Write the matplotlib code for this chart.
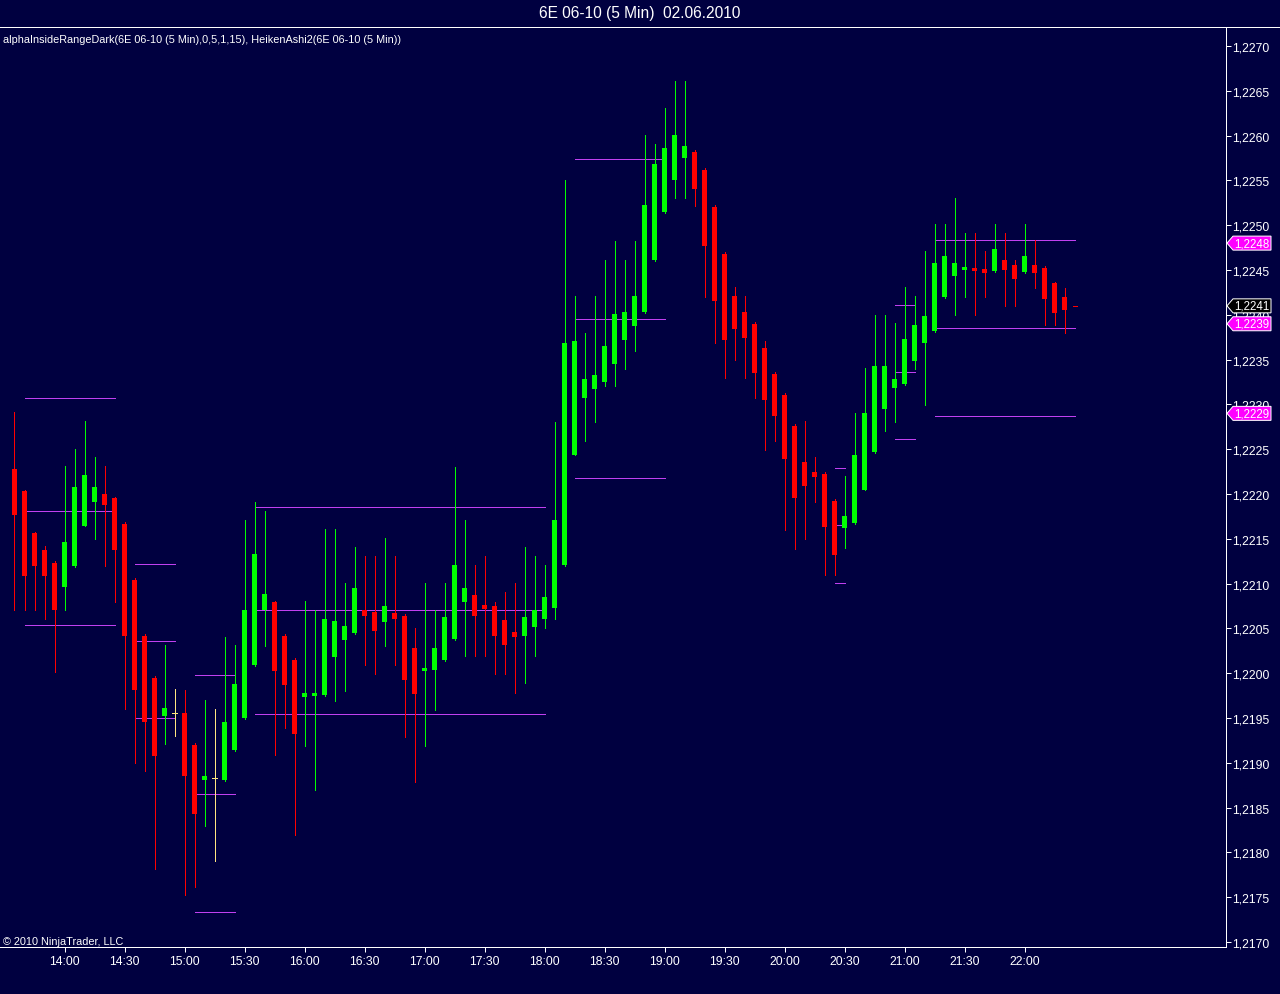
import matplotlib
matplotlib.use("Agg")
import matplotlib.pyplot as plt
from matplotlib.patches import Polygon
from matplotlib.lines import Line2D
from matplotlib.ticker import FuncFormatter, FixedLocator

plt.rcParams['font.family'] = ['Liberation Sans', 'DejaVu Sans']

# ---------------- data ----------------
title = "6E 06-10 (5 Min)  02.06.2010"
indicator_text = "alphaInsideRangeDark(6E 06-10 (5 Min),0,5,1,15), HeikenAshi2(6E 06-10 (5 Min))"
copyright_text = "\u00a9 2010 NinjaTrader, LLC"

start_time = "13:35"
bar_minutes = 5

opens = [1.22228, 1.22203, 1.22156, 1.22138, 1.22123, 1.22096, 1.22120, 1.22164, 1.22191, 1.22200,
         1.22195, 1.22167, 1.22104, 1.22042, 1.21995, 1.21952, 1.21956, 1.21956, 1.21920, 1.21881,
         1.21883, 1.21881, 1.21914, 1.21950, 1.22009, 1.22071, 1.22079, 1.22042, 1.22015, 1.21973,
         1.21975, 1.21976, 1.22018, 1.22037, 1.22045, 1.22070, 1.22068, 1.22057, 1.22067, 1.22064,
         1.22028, 1.22003, 1.22004, 1.22015, 1.22038, 1.22079, 1.22087, 1.22076, 1.22075, 1.22059,
         1.22046, 1.22042, 1.22052, 1.22061, 1.22073, 1.22121, 1.22244, 1.22307, 1.22317, 1.22325,
         1.22345, 1.22372, 1.22388, 1.22403, 1.22461, 1.22515, 1.22550, 1.22575, 1.22582, 1.22562,
         1.22520, 1.22468, 1.22421, 1.22403, 1.22390, 1.22363, 1.22334, 1.22311, 1.22276, 1.22236,
         1.22224, 1.22222, 1.22192, 1.22162, 1.22168, 1.22205, 1.22247, 1.22295, 1.22318, 1.22323,
         1.22348, 1.22368, 1.22382, 1.22420, 1.22443, 1.22450, 1.22452, 1.22451, 1.22449, 1.22461,
         1.22456, 1.22448, 1.22456, 1.22452, 1.22435, 1.22420]

highs = [1.22291, 1.22205, 1.22158, 1.22142, 1.22125, 1.22231, 1.22250, 1.22281, 1.22241, 1.22231,
         1.22197, 1.22169, 1.22106, 1.22044, 1.21997, 1.22031, 1.21982, 1.21981, 1.21922, 1.21970,
         1.21960, 1.22040, 1.22031, 1.22171, 1.22191, 1.22181, 1.22081, 1.22044, 1.22017, 1.22081,
         1.22070, 1.22161, 1.22161, 1.22101, 1.22141, 1.22131, 1.22131, 1.22151, 1.22131, 1.22066,
         1.22050, 1.22101, 1.22070, 1.22101, 1.22230, 1.22171, 1.22121, 1.22131, 1.22080, 1.22091,
         1.22101, 1.22141, 1.22131, 1.22121, 1.22280, 1.22551, 1.22421, 1.22380, 1.22421, 1.22461,
         1.22482, 1.22461, 1.22482, 1.22601, 1.22591, 1.22631, 1.22661, 1.22661, 1.22584, 1.22564,
         1.22522, 1.22470, 1.22431, 1.22421, 1.22392, 1.22371, 1.22336, 1.22313, 1.22278, 1.22281,
         1.22241, 1.22224, 1.22194, 1.22220, 1.22290, 1.22341, 1.22400, 1.22400, 1.22391, 1.22431,
         1.22421, 1.22471, 1.22501, 1.22501, 1.22530, 1.22491, 1.22491, 1.22471, 1.22501, 1.22491,
         1.22461, 1.22501, 1.22484, 1.22454, 1.22437, 1.22430]

lows = [1.22070, 1.22070, 1.22070, 1.22060, 1.22001, 1.22070, 1.22118, 1.22164, 1.22150, 1.22120,
        1.22080, 1.21960, 1.21900, 1.21891, 1.21781, 1.21921, 1.21930, 1.21752, 1.21761, 1.21830,
        1.21790, 1.21880, 1.21913, 1.21949, 1.22008, 1.22030, 1.21909, 1.21939, 1.21819, 1.21919,
        1.21870, 1.21975, 1.21969, 1.21980, 1.22044, 1.22009, 1.21999, 1.22030, 1.22009, 1.21929,
        1.21879, 1.21919, 1.21959, 1.22014, 1.22037, 1.22019, 1.22019, 1.22019, 1.21999, 1.21999,
        1.21978, 1.21989, 1.22019, 1.22050, 1.22060, 1.22120, 1.22243, 1.22259, 1.22280, 1.22320,
        1.22320, 1.22340, 1.22360, 1.22402, 1.22460, 1.22514, 1.22530, 1.22530, 1.22521, 1.22420,
        1.22369, 1.22329, 1.22349, 1.22329, 1.22307, 1.22249, 1.22259, 1.22160, 1.22139, 1.22150,
        1.22191, 1.22110, 1.22110, 1.22140, 1.22167, 1.22204, 1.22246, 1.22270, 1.22280, 1.22322,
        1.22340, 1.22299, 1.22381, 1.22419, 1.22400, 1.22420, 1.22400, 1.22420, 1.22448, 1.22410,
        1.22410, 1.22447, 1.22430, 1.22389, 1.22389, 1.22380]

closes = [1.22177, 1.22108, 1.22120, 1.22108, 1.22071, 1.22146, 1.22208, 1.22221, 1.22208, 1.22188,
          1.22137, 1.22041, 1.21981, 1.21946, 1.21908, 1.21961, 1.21956, 1.21885, 1.21843, 1.21885,
          1.21883, 1.21946, 1.21988, 1.22071, 1.22133, 1.22088, 1.22002, 1.21987, 1.21932, 1.21978,
          1.21978, 1.22060, 1.22058, 1.22053, 1.22095, 1.22064, 1.22047, 1.22075, 1.22060, 1.21992,
          1.21977, 1.22006, 1.22028, 1.22063, 1.22121, 1.22095, 1.22064, 1.22072, 1.22042, 1.22032,
          1.22040, 1.22063, 1.22070, 1.22085, 1.22171, 1.22369, 1.22371, 1.22328, 1.22333, 1.22365,
          1.22401, 1.22403, 1.22421, 1.22522, 1.22568, 1.22586, 1.22601, 1.22588, 1.22540, 1.22477,
          1.22415, 1.22372, 1.22384, 1.22374, 1.22335, 1.22305, 1.22287, 1.22239, 1.22195, 1.22209,
          1.22219, 1.22163, 1.22132, 1.22175, 1.22244, 1.22290, 1.22343, 1.22343, 1.22328, 1.22373,
          1.22389, 1.22399, 1.22458, 1.22466, 1.22458, 1.22453, 1.22449, 1.22447, 1.22473, 1.22450,
          1.22440, 1.22466, 1.22447, 1.22418, 1.22402, 1.22405]

last_price = 1.22410
last_time = "22:25"

# inside-range levels (start time, end time, high, mid, low)
range_start = ["13:40", "14:35", "15:05", "15:35", "18:15", "20:25", "20:55", "21:15"]
range_end = ["14:25", "14:55", "15:25", "18:00", "19:00", "20:30", "21:05", "22:25"]
range_high = [1.22307, 1.22122, 1.21998, 1.22185, 1.22574, 1.22229, 1.22411, 1.22483]
range_mid = [1.22181, 1.22036, 1.21865, 1.22070, 1.22395, 1.22165, 1.22336, 1.22385]
range_low = [1.22054, 1.21950, 1.21733, 1.21955, 1.22218, 1.22101, 1.22261, 1.22287]

x_tick_labels = ["14:00", "14:30", "15:00", "15:30", "16:00", "16:30", "17:00", "17:30", "18:00",
                 "18:30", "19:00", "19:30", "20:00", "20:30", "21:00", "21:30", "22:00"]
y_ticks = [1.2170, 1.2175, 1.2180, 1.2185, 1.2190, 1.2195, 1.2200, 1.2205, 1.2210, 1.2215,
           1.2220, 1.2225, 1.2230, 1.2235, 1.2240, 1.2245, 1.2250, 1.2255, 1.2260, 1.2265, 1.2270]

marker_prices = [1.2248, 1.2239, 1.2229]

# ---------------- style ----------------
BG = '#000040'
UP = '#00FF00'
DOWN = '#FF0000'
DOJI = '#FFE680'
RANGE_COLOR = '#C040F0'
MARKER = '#FF00FF'
PX = 0.72  # one pixel in points at dpi 100

W, H = 1280, 995


def tmin(s):
    h, m = s.split(":")
    return int(h) * 60 + int(m)


def bar_x(s):
    return (tmin(s) - tmin(start_time)) / bar_minutes


fig = plt.figure(figsize=(W / 100, H / 100), dpi=100, facecolor=BG)
ax_left, ax_right, ax_top, ax_bottom = 0, 1226, 28, 948
ax = fig.add_axes([ax_left / W, 1 - ax_bottom / H, (ax_right - ax_left) / W, (ax_bottom - ax_top) / H])
ax.set_facecolor(BG)

n = len(opens)
xs = list(range(n))

# range lines
for s, e, hi, mi, lo in zip(range_start, range_end, range_high, range_mid, range_low):
    x0, x1 = bar_x(s), bar_x(e)
    ax.hlines([hi, mi, lo], x0, x1, colors=RANGE_COLOR, linewidth=1.0 * PX, zorder=1,
              antialiased=False)

# candles
colors = []
for o, c in zip(opens, closes):
    if c > o:
        colors.append(UP)
    elif c < o:
        colors.append(DOWN)
    else:
        colors.append(DOJI)

ax.vlines(xs, lows, highs, colors=colors, linewidth=1.0 * PX, zorder=2, antialiased=False)
body_bottom = [min(o, c) for o, c in zip(opens, closes)]
body_height = [abs(c - o) for o, c in zip(opens, closes)]
for x, b, h, col in zip(xs, body_bottom, body_height, colors):
    if h == 0:
        ax.hlines(b, x - 0.25, x + 0.25, colors=col, linewidth=1.0 * PX, zorder=3,
                  antialiased=False)
    else:
        ax.bar(x, h, bottom=b, width=0.5, color=col, linewidth=0, zorder=3, antialiased=False)

# current price dash
lx = bar_x(last_time)
ax.hlines(last_price, lx - 0.2, lx + 0.2, colors=DOWN, linewidth=1.0 * PX, zorder=3,
          antialiased=False)

# axes limits
ax.set_xlim((0 - 14.5) / 10, (ax_right - 14.5) / 10)
ax.set_ylim(1.2270 - (ax_bottom - 47) / 89600, 1.2270 + (47 - ax_top) / 89600)

for side in ['left', 'top']:
    ax.spines[side].set_visible(False)
for side in ['right', 'bottom']:
    ax.spines[side].set_color('white')
    ax.spines[side].set_linewidth(1.0 * PX)

ax.yaxis.tick_right()
ax.yaxis.set_major_locator(FixedLocator(y_ticks))
ax.yaxis.set_major_formatter(FuncFormatter(lambda v, p: f"{v:.4f}".replace('.', ',')))
ax.tick_params(axis='y', direction='out', length=5 * PX, width=PX, colors='white',
               labelsize=8.8, pad=0.5)
ax.set_xticks([bar_x(t) for t in x_tick_labels])
ax.set_xticklabels(x_tick_labels)
ax.tick_params(axis='x', direction='out', length=5 * PX, width=PX, colors='white',
               labelsize=8.8, pad=2.5)

# separator line under title
fig.add_artist(Line2D([0, 1], [1 - 27.5 / H] * 2, transform=fig.transFigure, color='white',
                      linewidth=PX))

fig.text(0.5, 1 - 13.5 / H, title, color='white', fontsize=11.2, ha='center', va='center')
fig.text(3 / W, 1 - 40 / H, indicator_text, color='white', fontsize=7.8, ha='left', va='center')
fig.text(3 / W, 1 - 942 / H, copyright_text, color='white', fontsize=7.8, ha='left', va='center')


# price markers on the axis (drawn over the tick labels, as in the reference)
def fig_y_px(price):
    disp = ax.transData.transform((0, price))
    return H - disp[1] * 100 / fig.dpi


def draw_marker(price, face, text):
    y = fig_y_px(price)
    pts = [(1227, y), (1233, y - 7), (1271, y - 7), (1271, y + 7), (1233, y + 7)]
    pts = [(px / W, 1 - py / H) for px, py in pts]
    fig.add_artist(Polygon(pts, closed=True, facecolor=face, edgecolor='white',
                           linewidth=PX, transform=fig.transFigure, zorder=10))
    fig.text(1251.5 / W, 1 - y / H, text, color='white', fontsize=8.3, ha='center',
             va='center', zorder=11)


for mp in marker_prices:
    draw_marker(mp, MARKER, f"{mp:.4f}".replace('.', ','))
draw_marker(last_price, 'black', f"{last_price:.4f}".replace('.', ','))

fig.savefig("out.png", dpi=100, facecolor=BG)
